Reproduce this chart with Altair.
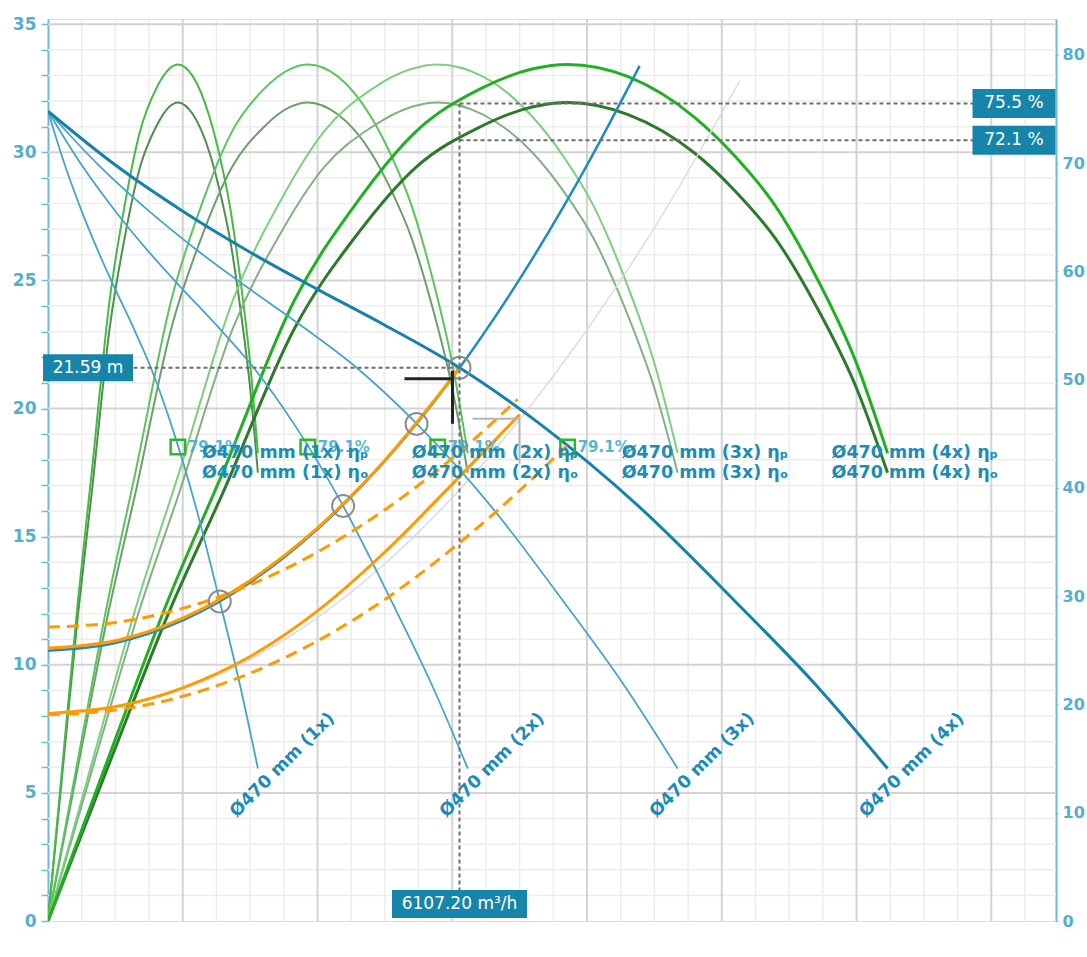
import altair as alt
import pandas as pd

# ---------------- data ----------------
# Single Ø470 mm pump: head curve (flow m³/h -> head m)
pump_q = [0, 250, 500, 750, 1000, 1250, 1527, 1825, 2190, 2550, 2850, 3115]
pump_h = [31.6, 29.5, 27.7, 26.1, 24.65, 23.25, 21.59, 19.4, 16.2, 12.47, 9.2, 5.95]

# Single pump efficiency curves (%): pump (ηp) and overall (ηo)
eff_q = [0, 250, 445, 650, 914, 1150, 1365, 1600, 1800, 1928, 2150, 2400, 2550, 2700, 2850, 3000, 3115]
eta_p = [0, 16.8, 29.6, 41.5, 57.3, 66.5, 72.9, 76.8, 78.7, 79.1, 78.0, 74.2, 70.6, 66.0, 59.5, 51.5, 43.2]
eta_o = [0, 16.0, 28.3, 39.6, 54.7, 63.5, 69.6, 73.3, 75.2, 75.6, 74.5, 70.9, 67.4, 63.0, 56.8, 49.2, 41.4]

pump_counts = [1, 2, 3, 4]
pump_name = "Ø470 mm"

# System curves
sys_main_q = [0, 1000, 2000, 3000, 4000, 5000, 6000, 7000, 8000, 8780]
sys_main_h = [10.55, 10.85, 11.73, 13.21, 15.29, 17.95, 21.2, 25.05, 29.5, 33.37]
sys_low_q = [0, 2000, 4000, 6000, 7000, 8000, 9000, 10270]
sys_low_h = [8.1, 9.04, 11.84, 16.52, 19.57, 23.08, 27.05, 32.8]

# Alternative system curves (orange)
hi_solid_q = [0, 1000, 2000, 3000, 4000, 5000, 6100]
hi_solid_h = [10.65, 10.94, 11.82, 13.29, 15.34, 17.98, 21.55]
hi_dash_q = [0, 1000, 2000, 3000, 4000, 5000, 6000, 6970]
hi_dash_h = [11.47, 11.65, 12.2, 13.12, 14.4, 16.05, 18.06, 20.36]
lo_solid_q = [0, 1000, 2000, 3000, 4000, 5000, 6000, 7000]
lo_solid_h = [8.1, 8.36, 9.1, 10.32, 12.1, 14.4, 17.05, 19.76]
lo_dash_q = [0, 1000, 2000, 3000, 4000, 5000, 6000, 7000, 7700]
lo_dash_h = [8.05, 8.23, 8.77, 9.67, 10.93, 12.55, 14.53, 16.8, 18.55]

# Intersections of the pump curves with the main system curve
duty_q = [2550, 4380, 5470, 6107.20]
duty_h = [12.47, 16.2, 19.4, 21.59]

# Selected operating point
op_q = 6107.20
op_h = 21.59
op_eta = [75.5, 72.1]

# Best efficiency point markers
bep_q = 1928
bep_eta = 79.1
bep_marker_h = 18.5

# ---------------- styling ----------------
W, HT = 1008, 902
FONT = "DejaVu Sans"
AX = "#6cbad6"
LAB = "#55aed0"
TXT = "#1b8cb8"
BOX = "#1784a9"

XS = alt.Scale(domain=[0, 14960], nice=False, zero=False)
HS = alt.Scale(domain=[0, 35.2], nice=False, zero=False)
ES = alt.Scale(domain=[0, 83.3], nice=False, zero=False)


def xq(field="q", axis=None):
    return alt.X(f"{field}:Q", scale=XS, axis=axis)


def yh(field="h", axis=None):
    return alt.Y(f"{field}:Q", scale=HS, axis=axis)


def ye(field="e", axis=None):
    return alt.Y(f"{field}:Q", scale=ES, axis=axis)


def curve(q, v, scale, color, width, dash=None, opacity=1.0):
    df = pd.DataFrame({"q": q, "v": v})
    kw = dict(interpolate="monotone", color=color, strokeWidth=width,
              opacity=opacity, clip=True)
    if dash:
        kw["strokeDash"] = dash
    return alt.Chart(df).mark_line(**kw).encode(
        x=xq(), y=alt.Y("v:Q", scale=scale, axis=None))


layers = []

# ---- grid and axes ----
x_axis = alt.Axis(
    values=list(range(0, 15000, 500)),
    labelExpr="datum.value % 2000 == 0 ? (datum.value == 0 ? '0' : datum.value / 1000 + 'k') : ''",
    grid=False, domainColor=AX, domainWidth=2, tickColor=AX, tickWidth=1.5,
    tickSize=6, labelColor=LAB, labelFontSize=17, labelFont=FONT,
    labelFontWeight="bold", labelPadding=8, labelFlush=False,
    labelOverlap=False, title=None)
left_axis = alt.Axis(
    values=list(range(0, 36)),
    labelExpr="datum.value % 5 == 0 ? datum.label : ''",
    grid=False, domainColor=AX, domainWidth=2, tickColor=AX, tickWidth=1.5,
    tickSize=7, labelColor=LAB, labelFontSize=17, labelFont=FONT,
    labelFontWeight="bold", labelPadding=5, labelFlush=False,
    labelOverlap=False, title=None)
right_axis = alt.Axis(
    orient="right", values=list(range(0, 81, 10)), grid=False,
    domainColor=AX, domainWidth=2, tickColor=AX, tickSize=2,
    labelColor=LAB, labelFontSize=16, labelFont=FONT, labelFontWeight="bold",
    labelPadding=4, labelFlush=False, labelOverlap=False, title=None)

gx_minor = pd.DataFrame({"q": [v for v in range(500, 15000, 500) if v % 2000]})
gx_major = pd.DataFrame({"q": list(range(2000, 15000, 2000))})
gy_minor = pd.DataFrame({"h": [v for v in range(1, 36) if v % 5]})
gy_major = pd.DataFrame({"h": list(range(5, 36, 5))})

layers.append(alt.Chart(gx_minor).mark_rule(color="#ededed", strokeWidth=1.5)
              .encode(x=xq(axis=x_axis)))
layers.append(alt.Chart(gy_minor).mark_rule(color="#ededed", strokeWidth=1.5)
              .encode(y=yh(axis=left_axis)))
layers.append(alt.Chart(gx_major).mark_rule(color="#d3d3d3", strokeWidth=2)
              .encode(x=xq()))
layers.append(alt.Chart(gy_major).mark_rule(color="#d3d3d3", strokeWidth=2)
              .encode(y=yh()))

# ---- efficiency curves (right axis) ----
eta_p_colors = {1: "#46b946", 2: "#5cc45c", 3: "#7ccf7c", 4: "#22b022"}
eta_o_colors = {1: "#4e8f4e", 2: "#6c9f6c", 3: "#84b084", 4: "#2d7a2d"}
for n in pump_counts:
    w = 3 if n == 4 else 2
    qn = [q * n for q in eff_q]
    layers.append(curve(qn, eta_o, ES, eta_o_colors[n], w))
    layers.append(curve(qn, eta_p, ES, eta_p_colors[n], w))

# ---- faint system curve ----
layers.append(curve(sys_low_q, sys_low_h, HS, "#dcdcdc", 1.5))

# ---- pump head curves ----
for n in pump_counts:
    qn = [q * n for q in pump_q]
    if n == 4:
        layers.append(curve(qn, pump_h, HS, "#1780ab", 3))
    else:
        layers.append(curve(qn, pump_h, HS, "#45a5c8", 1.8))

layers.append(curve(sys_main_q, sys_main_h, HS, "#1e8cc0", 2.5))

# ---- orange curves ----
OR = "#ff9a00"
layers.append(curve(lo_dash_q, lo_dash_h, HS, OR, 3, dash=[12, 7]))
layers.append(curve(hi_dash_q, hi_dash_h, HS, OR, 3, dash=[12, 7]))
layers.append(curve(lo_solid_q, lo_solid_h, HS, OR, 3))
layers.append(curve(hi_solid_q, hi_solid_h, HS, OR, 3))

# ---- duty point circles ----
duty_df = pd.DataFrame({"q": duty_q, "h": duty_h})
layers.append(alt.Chart(duty_df).mark_point(
    shape="circle", size=484, filled=False, color="#8c8c8c", strokeWidth=2,
    opacity=1).encode(x=xq(), y=yh()))

# ---- guide lines for the operating point ----
guide = dict(color="#6e6e6e", strokeDash=[4, 3], strokeWidth=2)
op_df = pd.DataFrame({"q": [op_q], "h": [op_h], "e": [op_eta[0]]})
layers.append(alt.Chart(op_df).mark_rule(**guide).encode(
    x=xq(), x2=alt.value(85), y=yh()))
layers.append(alt.Chart(op_df).mark_rule(**guide).encode(
    x=xq(), y=ye(), y2=alt.value(HT - 31)))
eta_df = pd.DataFrame({"q": [op_q] * 2, "e": op_eta,
                       "t": [f"{v} %" for v in op_eta]})
layers.append(alt.Chart(eta_df).mark_rule(**guide).encode(
    x=xq(), x2=alt.value(W - 83), y=ye(axis=right_axis)))

# cursor marks near the operating point
cur = pd.DataFrame({"q": [op_q], "h": [op_h]})
layers.append(alt.Chart(cur).mark_rule(
    color="#222222", strokeWidth=3, xOffset=-55, x2Offset=-7,
    yOffset=11, y2Offset=11).encode(x=xq(), x2="q:Q", y=yh(), y2="h:Q"))
layers.append(alt.Chart(cur).mark_rule(
    color="#222222", strokeWidth=3, xOffset=-7, x2Offset=-7,
    yOffset=3, y2Offset=56).encode(x=xq(), x2="q:Q", y=yh(), y2="h:Q"))
layers.append(alt.Chart(cur).mark_rule(
    color="#b4b4b4", strokeWidth=2, xOffset=13, x2Offset=60,
    yOffset=51, y2Offset=51).encode(x=xq(), x2="q:Q", y=yh(), y2="h:Q"))
layers.append(alt.Chart(cur).mark_rule(
    color="#b4b4b4", strokeWidth=2, xOffset=60, x2Offset=60,
    yOffset=51, y2Offset=96).encode(x=xq(), x2="q:Q", y=yh(), y2="h:Q"))

# ---- best efficiency markers ----
bep_df = pd.DataFrame({"q": [bep_q * n for n in pump_counts],
                       "h": [bep_marker_h] * 4,
                       "t": [f"{bep_eta}%"] * 4})
layers.append(alt.Chart(bep_df).mark_point(
    shape="square", size=210, filled=False, color="#2db52d", strokeWidth=2.5,
    opacity=1).encode(x=xq(), y=yh()))
layers.append(alt.Chart(bep_df).mark_text(
    align="left", baseline="middle", dx=10, font=FONT, fontSize=15,
    fontWeight="bold", color="#48aed0", opacity=0.9).encode(
    x=xq(), y=yh(), text="t:N"))

# ---- curve labels ----
end_df = pd.DataFrame({
    "q": [pump_q[-1] * n for n in pump_counts],
    "h": [pump_h[-1]] * 4,
    "t": [f"{pump_name}  ({n}x)" for n in pump_counts]})
layers.append(alt.Chart(end_df).mark_text(
    angle=315, align="left", baseline="alphabetic", dx=-50, dy=20,
    font=FONT, fontSize=17.5, fontWeight="bold", color=TXT).encode(
    x=xq(), y=yh(), text="t:N"))

eff_end = pd.DataFrame({
    "q": [eff_q[-1] * n for n in pump_counts] * 2,
    "e": [eta_p[-1]] * 4 + [eta_o[-1]] * 4,
    "t": [f"{pump_name}  ({n}x) ηₚ" for n in pump_counts]
         + [f"{pump_name}  ({n}x) ηₒ" for n in pump_counts]})
layers.append(alt.Chart(eff_end).mark_text(
    align="left", baseline="middle", dx=-56, font=FONT, fontSize=17.5,
    fontWeight="bold", color=TXT).encode(x=xq(), y=ye(), text="t:N"))

# ---- value boxes ----
def box_shape(w, h):
    r = h / w
    return f"M-1,-{r:.4f}L1,-{r:.4f}L1,{r:.4f}L-1,{r:.4f}Z"


box_kw = dict(filled=True, color=BOX, opacity=1, strokeWidth=0)
txt_kw = dict(font=FONT, fontSize=17, color="white", align="center",
              baseline="middle")

lbox = pd.DataFrame({"h": [op_h], "t": [f"{op_h:.2f} m"]})
layers.append(alt.Chart(lbox).mark_point(
    shape=box_shape(90, 27), size=90 ** 2, **box_kw).encode(
    x=alt.value(40), y=yh()))
layers.append(alt.Chart(lbox).mark_text(**txt_kw).encode(
    x=alt.value(40), y=yh(), text="t:N"))

bbox = pd.DataFrame({"q": [op_q], "t": [f"{op_q:.2f} m³/h"]})
layers.append(alt.Chart(bbox).mark_point(
    shape=box_shape(135, 28), size=135 ** 2, **box_kw).encode(
    x=xq(), y=alt.value(HT - 17)))
layers.append(alt.Chart(bbox).mark_text(**txt_kw).encode(
    x=xq(), y=alt.value(HT - 17), text="t:N"))

layers.append(alt.Chart(eta_df).mark_point(
    shape=box_shape(83, 29), size=83 ** 2, **box_kw).encode(
    x=alt.value(W - 42), y=ye()))
layers.append(alt.Chart(eta_df).mark_text(**txt_kw).encode(
    x=alt.value(W - 42), y=ye(), text="t:N"))

chart = (
    alt.layer(*layers)
    .resolve_scale(y="independent")
    .properties(width=W, height=HT,
                autosize=alt.AutoSizeParams(type="none"),
                padding={"left": 48, "top": 19, "right": 31, "bottom": 36})
    .configure_view(stroke=AX, strokeWidth=2)
    .configure(background="white")
)

chart.save("out.html", embed_options={"renderer": "svg", "actions": False})
